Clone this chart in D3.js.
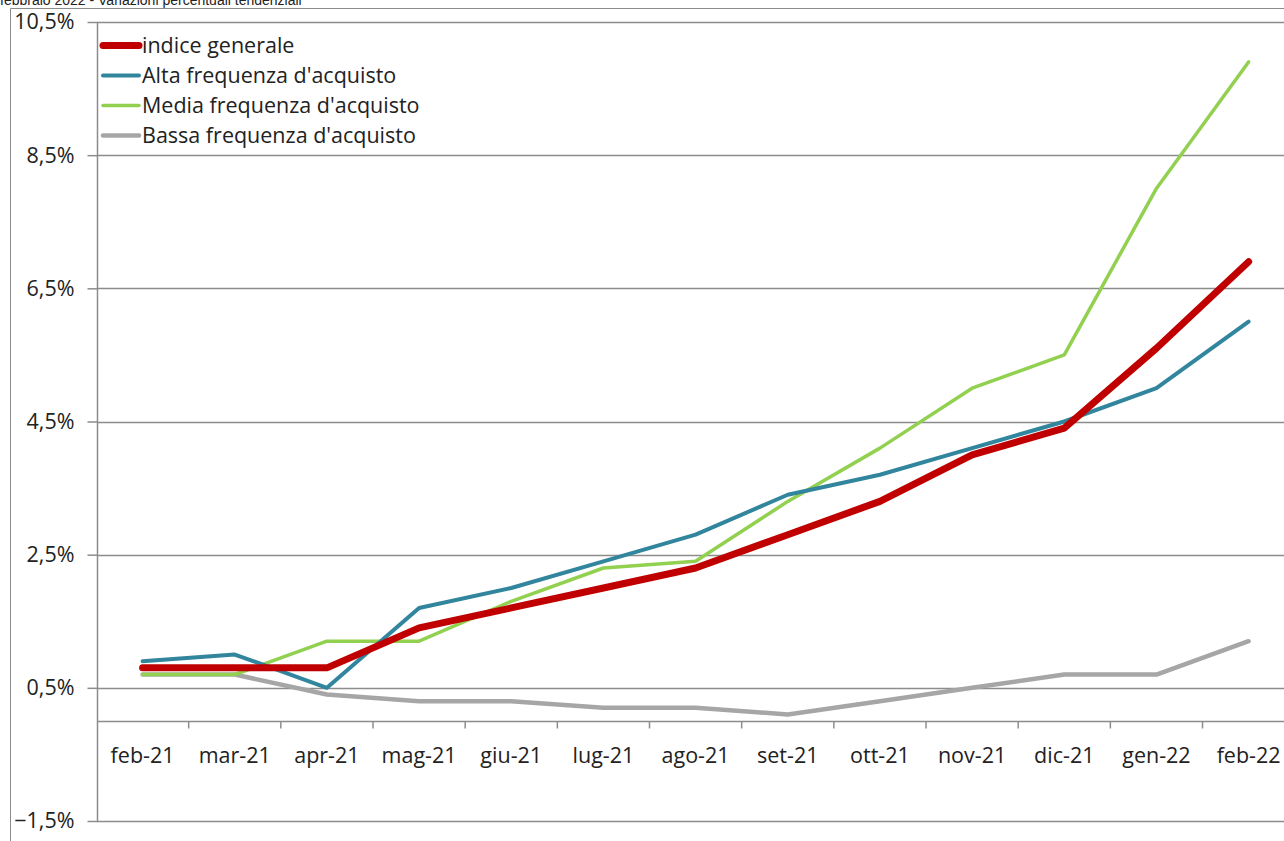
<!DOCTYPE html>
<html><head><meta charset="utf-8">
<script src="https://cdn.jsdelivr.net/npm/d3@7"></script>
<style>
html,body{margin:0;padding:0;background:#fff;overflow:hidden}
svg{display:block}
</style></head>
<body>
<svg id="c" width="1284" height="841"></svg>
<script>
const categories = ["feb-21","mar-21","apr-21","mag-21","giu-21","lug-21","ago-21","set-21","ott-21","nov-21","dic-21","gen-22","feb-22"];
const indiceGenerale = [0.8,0.8,0.8,1.4,1.7,2.0,2.3,2.8,3.3,4.0,4.4,5.6,6.9];
const altaFrequenza  = [0.9,1.0,0.5,1.7,2.0,2.4,2.8,3.4,3.7,4.1,4.5,5.0,6.0];
const mediaFrequenza = [0.7,0.7,1.2,1.2,1.8,2.3,2.4,3.3,4.1,5.0,5.5,8.0,9.9];
const bassaFrequenza = [0.7,0.7,0.4,0.3,0.3,0.2,0.2,0.1,0.3,0.5,0.7,0.7,1.2];
const yTicks = [-1.5,0.5,2.5,4.5,6.5,8.5,10.5];
const seriesNames = ["indice generale","Alta frequenza d'acquisto","Media frequenza d'acquisto","Bassa frequenza d'acquisto"];
const title = "febbraio 2022 - Variazioni percentuali tendenziali";

const series = [
  {name: seriesNames[0], values: indiceGenerale, color: "#C00000", width: 7},
  {name: seriesNames[1], values: altaFrequenza,  color: "#31859C", width: 4},
  {name: seriesNames[2], values: mediaFrequenza, color: "#92D050", width: 3.5},
  {name: seriesNames[3], values: bassaFrequenza, color: "#A6A6A6", width: 4.5}
];
const drawOrder = [3,2,1,0];

const svg = d3.select("#c");
const font = "'Open Sans', Carlito, Calibri, sans-serif";
const fs = 21.5;
const fmt = v => d3.format(".1f")(v).replace(".", ",") + "%";

const x = d3.scaleBand().domain(categories).range([96.5, 1294.7]).padding(0);
const xc = c => x(c) + x.bandwidth()/2;
const y = d3.scaleLinear().domain([-1.5, 10.5]).range([821, 22]);

// title (mostly cut off at the top, as in the reference)
svg.append("text").attr("x", 0).attr("y", 4.5).attr("font-family", "'Liberation Sans', Arial, sans-serif")
  .attr("font-size", 14).attr("fill", "#222").text(title);

// outer frame
svg.append("line").attr("x1", 10.5).attr("x2", 1284).attr("y1", 8.5).attr("y2", 8.5).attr("stroke", "#8c8c8c").attr("stroke-width", 1);
svg.append("line").attr("x1", 10.5).attr("x2", 10.5).attr("y1", 8.5).attr("y2", 841).attr("stroke", "#8c8c8c").attr("stroke-width", 1);

// gridlines
svg.append("g").selectAll("line").data(yTicks).join("line")
  .attr("x1", 97).attr("x2", 1284).attr("y1", d => Math.round(y(d)) + 0.5).attr("y2", d => Math.round(y(d)) + 0.5)
  .attr("stroke", "#8c8c8c").attr("stroke-width", 1.5);

// y axis
const yAxis = d3.axisLeft(y).tickValues(yTicks).tickFormat(fmt).tickSize(10).tickPadding(13);
const gy = svg.append("g").attr("transform", "translate(97.5,0)").call(yAxis);
gy.select(".domain").attr("stroke", "#8c8c8c").attr("stroke-width", 1.5).attr("d", `M0,${y(10.5)}V${y(-1.5)}`);
gy.selectAll(".tick line").attr("stroke", "#8c8c8c").attr("stroke-width", 1.5);
gy.selectAll(".tick text").attr("font-family", font).attr("font-size", fs).attr("fill", "#222");

// x axis at value 0
const gx = svg.append("g").attr("transform", `translate(0,${Math.round(y(0)) + 0.5})`);
gx.append("line").attr("x1", 97).attr("x2", 1284).attr("stroke", "#8c8c8c").attr("stroke-width", 1.5);
gx.selectAll("line.tk").data(categories.slice(1)).join("line").attr("class", "tk")
  .attr("x1", d => x(d)).attr("x2", d => x(d)).attr("y1", 0).attr("y2", 7)
  .attr("stroke", "#8c8c8c").attr("stroke-width", 1.5);
gx.selectAll("text").data(categories).join("text")
  .attr("x", d => xc(d)).attr("y", 34).attr("dy", "0.35em").attr("text-anchor", "middle")
  .attr("font-family", font).attr("font-size", fs).attr("fill", "#222").text(d => d);

// lines
const line = d3.line().x((d, i) => xc(categories[i])).y(d => y(d));
svg.append("g").selectAll("path").data(drawOrder.map(i => series[i])).join("path")
  .attr("d", d => line(d.values)).attr("fill", "none")
  .attr("stroke", d => d.color).attr("stroke-width", d => d.width)
  .attr("stroke-linejoin", "round").attr("stroke-linecap", "round");

// legend
const lg = svg.append("g");
series.forEach((s, i) => {
  const ly = 45.5 + i * 30;
  lg.append("line").attr("x1", 103).attr("x2", 139).attr("y1", ly).attr("y2", ly)
    .attr("stroke", s.color).attr("stroke-width", s.width).attr("stroke-linecap", "round");
  lg.append("text").attr("x", 142).attr("y", ly).attr("dy", "0.35em")
    .attr("font-family", font).attr("font-size", fs).attr("fill", "#222").text(s.name);
});
</script>
</body></html>
